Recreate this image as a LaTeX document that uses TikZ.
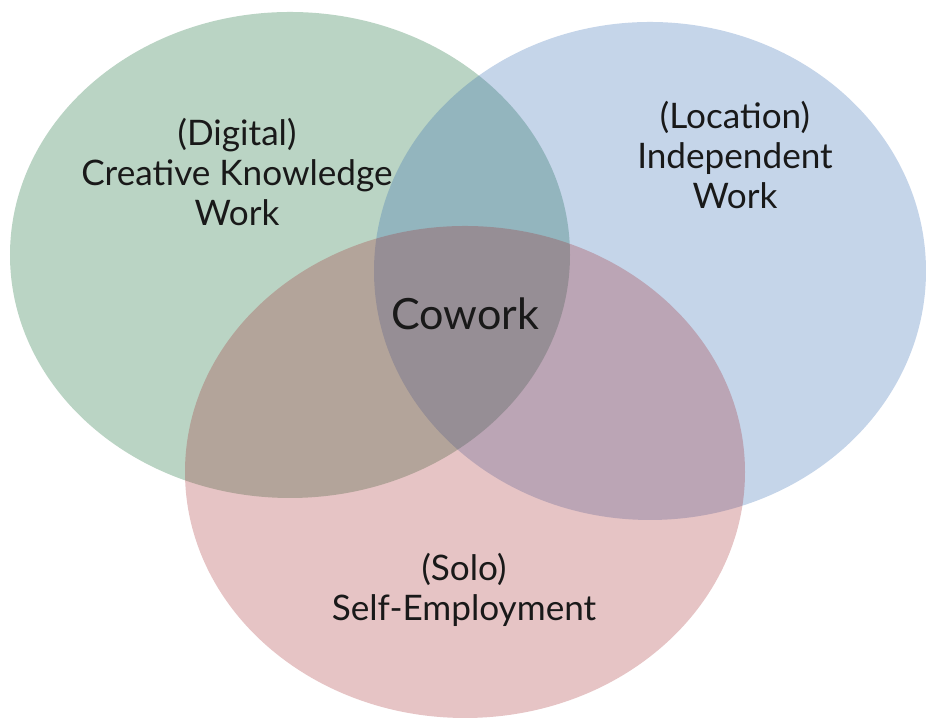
\documentclass[tikz,border=0pt]{standalone}
\usepackage{fontspec}
\setmainfont{Lato}
\usepackage{tikz}

\definecolor{setgreen}{RGB}{0,96,36}
\definecolor{setblue}{RGB}{40,99,174}
\definecolor{setred}{RGB}{162,36,40}

\tikzset{
	setfill/.style = {fill opacity=.27},
	setlabel/.style = {align=center, font=\fontsize{20}{23}\selectfont, text=black!90},
}

\begin{document}
\begin{tikzpicture}
		\useasboundingbox (0,0) rectangle (18.52,14.36);
		% the three sets, painted see-through one over the other
		\fill[setfill, setgreen] (5.8,9.26) ellipse (5.6 and 4.86);
		\fill[setfill, setblue] (13.0,8.94) ellipse (5.52 and 4.98);
		\fill[setfill, setred] (9.3,4.92) ellipse (5.6 and 4.92);
		\node[setlabel] (digital) at (4.74,10.92) {(Digital)\\Creative Knowledge\\Work};
		\node[setlabel] (location) at (14.7,11.26) {(Location)\\Independent\\Work};
		\node[setlabel] (solo) at (9.28,2.56) {(Solo)\\Self-Employment};
		\node[setlabel, font=\fontsize{24.5}{28}\selectfont] (cowork) at (9.3,8.08) {Cowork};
\end{tikzpicture}
\end{document}
